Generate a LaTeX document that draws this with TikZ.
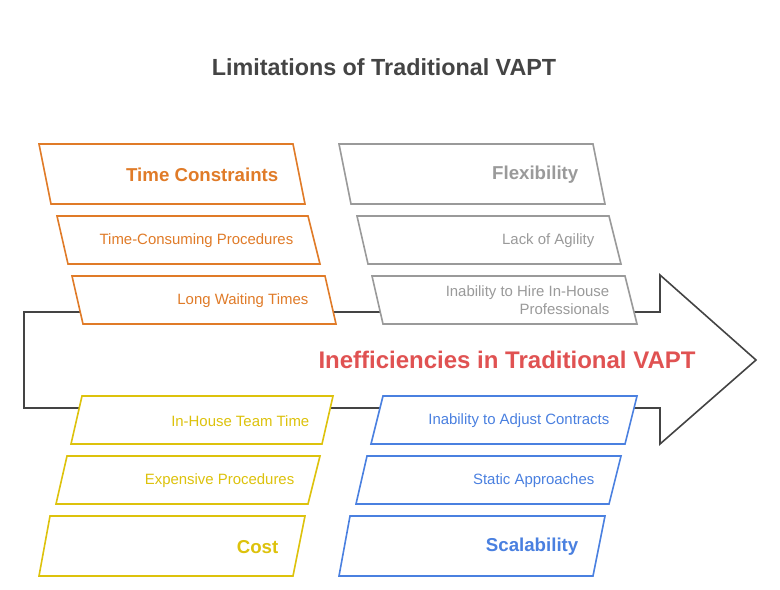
\documentclass[tikz,border=0pt]{standalone}
\usepackage{fontspec}
\setmainfont{Liberation Sans}
\usepackage{xcolor}
\definecolor{orng}{HTML}{E07B28}
\definecolor{grey}{HTML}{9A9A9A}
\definecolor{yell}{HTML}{DDC20C}
\definecolor{blu}{HTML}{4A80E0}
\definecolor{dark}{HTML}{444444}
\definecolor{redd}{HTML}{E05252}
\tikzset{
  box/.style={fill=white,line width=1.2pt},
  head/.style={font=\bfseries\fontsize{14}{16}\selectfont,anchor=east},
  item/.style={font=\fontsize{11.2}{13}\selectfont,anchor=east,align=right},
}
\begin{document}
\begin{tikzpicture}[x=0.75pt,y=0.75pt,yscale=-1]
        \useasboundingbox (0,0) rectangle (780,589);
        
        %Shape: Arrow [id:spine]
        \draw [draw=dark, fill=white, line width=1.2pt] (24,312) -- (660,312) -- (660,275) -- (756,360) -- (660,444) -- (660,408) -- (24,408) -- cycle ;
        
        %Shape: Parallelograms top left
        \draw [box, draw=orng] (39,144) -- (293,144) -- (305,204) -- (51,204) -- cycle ;
        \draw [box, draw=orng] (57,216) -- (308,216) -- (320,264) -- (68,264) -- cycle ;
        \draw [box, draw=orng] (72,276) -- (325,276) -- (336,324) -- (83,324) -- cycle ;
        %Shape: Parallelograms bottom left
        \draw [box, draw=yell] (82,396) -- (333,396) -- (322,444) -- (71,444) -- cycle ;
        \draw [box, draw=yell] (67,456) -- (320,456) -- (308,504) -- (56,504) -- cycle ;
        \draw [box, draw=yell] (50,516) -- (305,516) -- (293,576) -- (39,576) -- cycle ;
        %Shape: Parallelograms top right
        \draw [box, draw=grey] (339,144) -- (593,144) -- (605,204) -- (351,204) -- cycle ;
        \draw [box, draw=grey] (357,216) -- (609,216) -- (621,264) -- (368,264) -- cycle ;
        \draw [box, draw=grey] (372,276) -- (625,276) -- (637,324) -- (383,324) -- cycle ;
        %Shape: Parallelograms bottom right
        \draw [box, draw=blu] (383,396) -- (637,396) -- (625,444) -- (371,444) -- cycle ;
        \draw [box, draw=blu] (367,456) -- (621,456) -- (609,504) -- (356,504) -- cycle ;
        \draw [box, draw=blu] (350,516) -- (605,516) -- (593,576) -- (339,576) -- cycle ;
        
        % Text Node
        \node [font=\bfseries\fontsize{17.5}{20}\selectfont, text=dark] (title) at (384,67) {Limitations of Traditional VAPT};
        % Text Node
        \node [font=\bfseries\fontsize{18}{21}\selectfont, text=redd] (effect) at (507,360) {Inefficiencies in Traditional VAPT};
        
        % Text Node
        \node [head, text=orng] (time) at (283,175) {Time Constraints};
        \node [item, text=orng] (proc) at (298,241) {Time-Consuming Procedures};
        \node [item, text=orng] (wait) at (313,301) {Long Waiting Times};
        % Text Node
        \node [item, text=yell] (team) at (314,421) {In-House Team Time};
        \node [item, text=yell] (expn) at (299,481) {Expensive Procedures};
        \node [head, text=yell] (cost) at (283,547) {Cost};
        % Text Node
        \node [head, text=grey] (flex) at (583,175) {Flexibility};
        \node [item, text=grey] (agil) at (599,241) {Lack of Agility};
        \node [item, text=grey] (hire) at (614,300) {Inability to Hire In-House\\Professionals};
        % Text Node
        \node [item, text=blu] (cont) at (614,421) {Inability to Adjust Contracts};
        \node [item, text=blu] (stat) at (599,481) {Static Approaches};
        \node [head, text=blu] (scal) at (583,547) {Scalability};
        
\end{tikzpicture}
\end{document}
